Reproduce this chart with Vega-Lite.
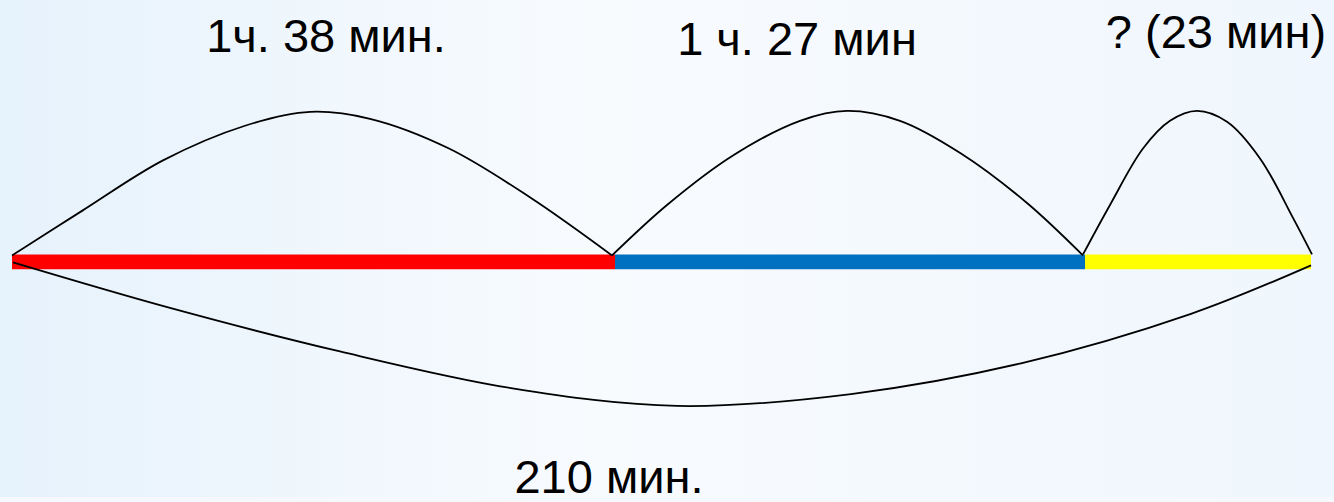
{
  "$schema": "https://vega.github.io/schema/vega-lite/v6.json",
  "width": 1334,
  "height": 502,
  "padding": 0,
  "autosize": {"type": "fit", "contains": "padding"},
  "background": "#f5f9fd",
  "config": {"view": {"stroke": null}},
  "datasets": {
    "bg": [{"x": 0, "x2": 1334, "y": 0, "y2": 502}],
    "segments": [
      {"seg": "A", "x": 12, "x2": 615, "y": 257, "y2": 272},
      {"seg": "B", "x": 615, "x2": 1085, "y": 257, "y2": 272},
      {"seg": "C", "x": 1085, "x2": 1311, "y": 257, "y2": 272}
    ],
    "arcs": [
      {"arc": "a1", "x": 12, "y": 258},
      {"arc": "a1", "x": 82, "y": 213},
      {"arc": "a1", "x": 163, "y": 162},
      {"arc": "a1", "x": 245, "y": 127},
      {"arc": "a1", "x": 310, "y": 113},
      {"arc": "a1", "x": 370, "y": 120},
      {"arc": "a1", "x": 449, "y": 150},
      {"arc": "a1", "x": 531, "y": 200},
      {"arc": "a1", "x": 612, "y": 258},
      {"arc": "a2", "x": 612, "y": 258},
      {"arc": "a2", "x": 667, "y": 207},
      {"arc": "a2", "x": 733, "y": 157},
      {"arc": "a2", "x": 800, "y": 122},
      {"arc": "a2", "x": 847, "y": 112},
      {"arc": "a2", "x": 900, "y": 122},
      {"arc": "a2", "x": 961, "y": 155},
      {"arc": "a2", "x": 1027, "y": 205},
      {"arc": "a2", "x": 1083, "y": 258},
      {"arc": "a3", "x": 1083, "y": 257},
      {"arc": "a3", "x": 1110, "y": 207},
      {"arc": "a3", "x": 1143, "y": 150},
      {"arc": "a3", "x": 1170, "y": 122},
      {"arc": "a3", "x": 1197, "y": 112},
      {"arc": "a3", "x": 1227, "y": 123},
      {"arc": "a3", "x": 1260, "y": 160},
      {"arc": "a3", "x": 1293, "y": 220},
      {"arc": "a3", "x": 1312, "y": 257},
      {"arc": "b", "x": 13, "y": 265},
      {"arc": "b", "x": 170, "y": 311},
      {"arc": "b", "x": 340, "y": 355},
      {"arc": "b", "x": 511, "y": 392},
      {"arc": "b", "x": 677, "y": 410},
      {"arc": "b", "x": 851, "y": 398},
      {"arc": "b", "x": 1021, "y": 367},
      {"arc": "b", "x": 1191, "y": 317},
      {"arc": "b", "x": 1311, "y": 268}
    ],
    "labels": [
      {"text": "1ч. 38 мин.", "x": 326, "y": 53},
      {"text": "1 ч. 27 мин", "x": 797, "y": 56},
      {"text": "? (23 мин)", "x": 1216, "y": 48},
      {"text": "210 мин.", "x": 609, "y": 498}
    ]
  },
  "layer": [
    {
      "data": {"name": "bg"},
      "mark": {
        "type": "rect",
        "color": {
          "gradient": "linear",
          "x1": 0, "y1": 0.5, "x2": 1, "y2": 0.5,
          "stops": [
            {"offset": 0, "color": "#e6f2fc"},
            {"offset": 0.45, "color": "#f8fbfe"},
            {"offset": 1, "color": "#eff6fd"}
          ]
        }
      },
      "encoding": {
        "x": {"field": "x", "type": "quantitative", "scale": {"domain": [0, 1334], "nice": false, "zero": false}, "axis": null},
        "x2": {"field": "x2"},
        "y": {"field": "y", "type": "quantitative", "scale": {"domain": [0, 502], "nice": false, "zero": false, "reverse": true}, "axis": null},
        "y2": {"field": "y2"}
      }
    },
    {
      "data": {"name": "segments"},
      "mark": {"type": "rect"},
      "encoding": {
        "x": {"field": "x", "type": "quantitative", "axis": null},
        "x2": {"field": "x2"},
        "y": {"field": "y", "type": "quantitative", "axis": null},
        "y2": {"field": "y2"},
        "color": {"field": "seg", "type": "nominal", "scale": {"domain": ["A", "B", "C"], "range": ["#ff0000", "#0070c0", "#ffff00"]}, "legend": null}
      }
    },
    {
      "data": {"name": "arcs"},
      "mark": {"type": "line", "interpolate": "catmull-rom", "color": "#000000", "strokeWidth": 1.8},
      "encoding": {
        "x": {"field": "x", "type": "quantitative", "axis": null},
        "y": {"field": "y", "type": "quantitative", "axis": null},
        "detail": {"field": "arc", "type": "nominal"}
      }
    },
    {
      "data": {"name": "labels"},
      "mark": {"type": "text", "font": "Liberation Sans", "fontSize": 47, "align": "center", "baseline": "alphabetic", "color": "#000000"},
      "encoding": {
        "x": {"field": "x", "type": "quantitative", "axis": null},
        "y": {"field": "y", "type": "quantitative", "axis": null},
        "text": {"field": "text", "type": "nominal"}
      }
    }
  ]
}
